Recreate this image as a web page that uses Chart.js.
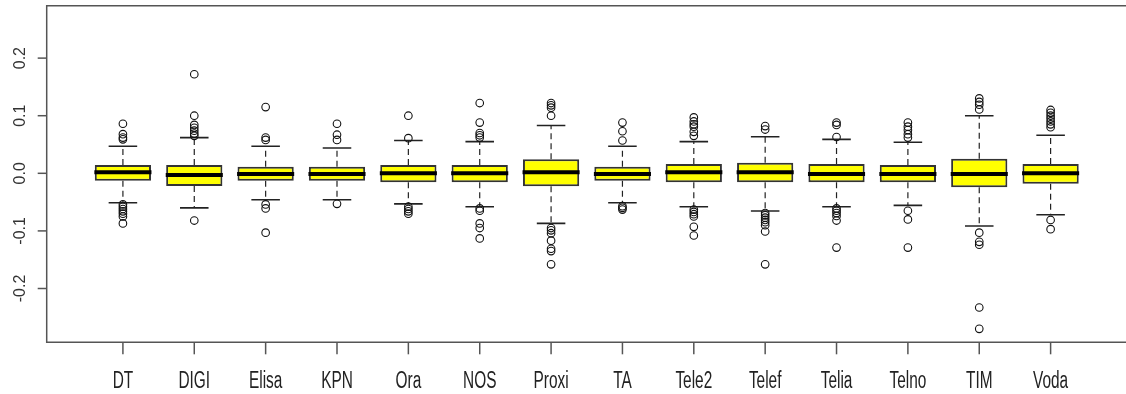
<!DOCTYPE html>
<html>
<head>
<meta charset="utf-8">
<title>Daily returns by operator</title>
<script src="https://cdn.jsdelivr.net/npm/chart.js@4.4.1/dist/chart.umd.min.js"></script>
<style>
  html, body { margin: 0; padding: 0; background: #fff; }
  #wrap { width: 1126px; height: 394px; position: relative; }
</style>
</head>
<body>
<div id="wrap"><canvas id="returns-boxplot"></canvas></div>
<script>
// Operators (x categories)
const categories = ['DT', 'DIGI', 'Elisa', 'KPN', 'Ora', 'NOS', 'Proxi', 'TA', 'Tele2', 'Telef', 'Telia', 'Telno', 'TIM', 'Voda'];

// Box statistics
const lowerHinge = [-0.013, -0.022, -0.013, -0.013, -0.0156, -0.0156, -0.0226, -0.013, -0.0156, -0.0156, -0.0156, -0.0156, -0.0243, -0.018];
const upperHinge = [0.0144, 0.0144, 0.0115, 0.0115, 0.0144, 0.0144, 0.0243, 0.0115, 0.016, 0.0185, 0.016, 0.0144, 0.0254, 0.016];
const medians = [0.002, -0.003, -0.001, -0.001, 0.0, 0.0, 0.002, -0.001, 0.002, 0.002, -0.001, -0.001, -0.001, 0.0];
const whiskerLow = [-0.051, -0.060, -0.046, -0.046, -0.053, -0.058, -0.087, -0.051, -0.058, -0.0655, -0.058, -0.0556, -0.0915, -0.072];
const whiskerHigh = [0.047, 0.062, 0.047, 0.044, 0.057, 0.055, 0.083, 0.047, 0.055, 0.0636, 0.059, 0.054, 0.100, 0.066];

// Outliers per operator
const outliers = [
  [0.086, 0.068, 0.062, 0.059, -0.054, -0.058, -0.062, -0.066, -0.070, -0.075, -0.087],
  [0.172, 0.100, 0.084, 0.079, 0.074, 0.069, 0.065, -0.082],
  [0.115, 0.062, 0.058, -0.054, -0.061, -0.103],
  [0.086, 0.067, 0.058, -0.053],
  [0.100, 0.061, -0.058, -0.062, -0.066, -0.070],
  [0.122, 0.088, 0.070, 0.066, 0.062, -0.061, -0.065, -0.087, -0.095, -0.113],
  [0.122, 0.118, 0.114, 0.100, -0.095, -0.099, -0.104, -0.117, -0.131, -0.135, -0.158],
  [0.088, 0.073, 0.057, -0.057, -0.060, -0.063],
  [0.097, 0.090, 0.085, 0.081, 0.072, 0.065, -0.063, -0.067, -0.071, -0.075, -0.093, -0.108],
  [0.082, 0.076, -0.069, -0.073, -0.077, -0.081, -0.085, -0.090, -0.101, -0.158],
  [0.088, 0.084, 0.063, -0.061, -0.065, -0.069, -0.074, -0.082, -0.129],
  [0.088, 0.081, 0.075, 0.068, 0.062, -0.065, -0.080, -0.129],
  [0.130, 0.124, 0.119, 0.111, -0.103, -0.119, -0.124, -0.233, -0.270],
  [0.110, 0.105, 0.100, 0.095, 0.090, 0.085, 0.080, -0.081, -0.097]
];

// Y axis ticks
const yTicks = [-0.2, -0.1, 0.0, 0.1, 0.2];

// Box width in x units (like R's boxwex)
const boxWidth = 0.8;

// Width in pixels of some x units, from the x scale
function halfWidthPx(chart, units) {
  const xs = chart.scales.x;
  return Math.abs(xs.getPixelForValue(units) - xs.getPixelForValue(0));
}

// Dashed whisker segments, broken with nulls
const whiskerPoints = [];
categories.forEach((name, i) => {
  whiskerPoints.push({ x: i + 1, y: upperHinge[i] }, { x: i + 1, y: whiskerHigh[i] }, { x: i + 1, y: null });
  whiskerPoints.push({ x: i + 1, y: lowerHinge[i] }, { x: i + 1, y: whiskerLow[i] }, { x: i + 1, y: null });
});

const capPoints = [];
categories.forEach((name, i) => {
  capPoints.push({ x: i + 1, y: whiskerHigh[i] }, { x: i + 1, y: whiskerLow[i] });
});

const outlierPoints = [];
outliers.forEach((list, i) => {
  list.forEach(v => outlierPoints.push({ x: i + 1, y: v }));
});

// Axes drawn R style: open frame, outside ticks, rotated y labels
const rAxesPlugin = {
  id: 'rAxes',
  afterDraw(chart) {
    const { ctx, chartArea: area, scales: { x, y } } = chart;
    ctx.save();
    ctx.strokeStyle = '#555';
    ctx.lineWidth = 1.5;
    ctx.beginPath();
    ctx.moveTo(chart.width, area.top);
    ctx.lineTo(area.left, area.top);
    ctx.lineTo(area.left, area.bottom);
    ctx.lineTo(chart.width, area.bottom);
    ctx.stroke();

    // y ticks and labels
    ctx.fillStyle = '#333';
    ctx.font = '16px "Liberation Sans", Arial, sans-serif';
    yTicks.forEach(v => {
      const py = y.getPixelForValue(v);
      ctx.beginPath();
      ctx.moveTo(area.left - 9, py);
      ctx.lineTo(area.left, py);
      ctx.stroke();
      ctx.save();
      ctx.translate(25, py);
      ctx.rotate(-Math.PI / 2);
      ctx.textAlign = 'center';
      ctx.textBaseline = 'alphabetic';
      ctx.fillText(v.toFixed(1), 0, 0);
      ctx.restore();
    });

    // x ticks and labels (narrow text)
    ctx.fillStyle = '#222';
    ctx.font = '23px "Liberation Sans", Arial, sans-serif';
    categories.forEach((name, i) => {
      const px = x.getPixelForValue(i + 1);
      ctx.beginPath();
      ctx.moveTo(px, area.bottom);
      ctx.lineTo(px, area.bottom + 12);
      ctx.stroke();
      ctx.save();
      ctx.translate(px, area.bottom + 46);
      ctx.scale(0.67, 1);
      ctx.textAlign = 'center';
      ctx.textBaseline = 'alphabetic';
      ctx.fillText(name, 0, 0);
      ctx.restore();
    });
    ctx.restore();
  }
};

const ctx = document.getElementById('returns-boxplot').getContext('2d');

new Chart(ctx, {
  type: 'bar',
  data: {
    datasets: [
      {
        type: 'scatter',
        label: 'Outliers',
        data: outlierPoints,
        pointStyle: 'circle',
        pointRadius: 3.8,
        borderWidth: 1.1,
        borderColor: '#111',
        backgroundColor: 'rgba(0,0,0,0)',
        order: 0
      },
      {
        type: 'scatter',
        label: 'Median',
        data: medians.map((m, i) => ({ x: i + 1, y: m })),
        pointStyle: 'line',
        pointRadius: (c) => halfWidthPx(c.chart, boxWidth / 2),
        borderWidth: 4,
        borderColor: '#000',
        order: 1
      },
      {
        type: 'scatter',
        label: 'Caps',
        data: capPoints,
        pointStyle: 'line',
        pointRadius: (c) => halfWidthPx(c.chart, boxWidth / 4),
        borderWidth: 1.6,
        borderColor: '#222',
        order: 2
      },
      {
        type: 'bar',
        label: 'Box',
        data: categories.map((name, i) => ({ x: i + 1, y: [lowerHinge[i], upperHinge[i]] })),
        backgroundColor: '#ffff00',
        borderColor: '#333',
        borderWidth: 2,
        borderSkipped: false,
        barPercentage: boxWidth,
        categoryPercentage: 1,
        order: 3
      },
      {
        type: 'line',
        label: 'Whiskers',
        data: whiskerPoints,
        borderColor: '#222',
        borderWidth: 1.2,
        borderDash: [6, 4],
        pointRadius: 0,
        spanGaps: false,
        fill: false,
        order: 4
      }
    ]
  },
  options: {
    responsive: true,
    maintainAspectRatio: false,
    animation: false,
    events: [],
    layout: { padding: { left: 46.7, right: 0, top: 5.7, bottom: 51.7 } },
    scales: {
      x: { type: 'linear', min: -0.068, max: 14.985, offset: false, display: false },
      y: { type: 'linear', min: -0.2934, max: 0.291, display: false }
    },
    plugins: {
      legend: { display: false },
      tooltip: { enabled: false }
    }
  },
  plugins: [rAxesPlugin]
});
</script>
</body>
</html>
